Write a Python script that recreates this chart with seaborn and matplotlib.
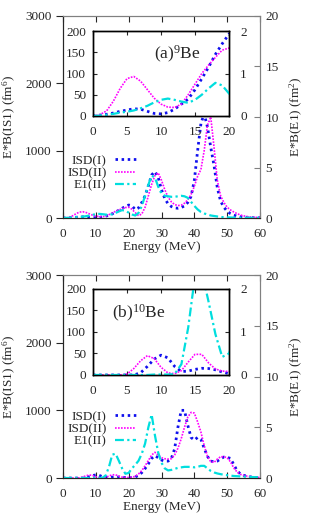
import matplotlib
matplotlib.use("Agg")
import matplotlib.pyplot as plt
from matplotlib.lines import Line2D
import seaborn as sns

# energy grid (MeV), 1 MeV steps
energy = list(range(61))

# 9Be
be9_isd1 = [0, 2, 4, 7, 11, 14, 17, 16, 11, 6, 5, 8, 16, 28, 40, 62, 88, 115, 145, 170, 193,
            180, 125, 150, 230, 330, 480, 640, 690, 600, 420, 290, 210, 170, 150, 145, 155, 180, 230, 320,
            560, 1000, 1400, 1550, 1350, 1050, 780, 450, 250, 160, 100, 65, 42, 28, 20, 14, 10, 7, 5, 4, 3]
be9_isd2 = [0, 3, 12, 35, 65, 88, 93, 82, 62, 42, 28, 21, 20, 28, 50, 75, 100, 120, 138, 155, 160,
            130, 80, 35, 60, 160, 330, 500, 630, 670, 560, 420, 310, 240, 200, 185, 190, 220, 270, 350,
            470, 620, 720, 1000, 1380, 1500, 1050, 560, 330, 230, 160, 120, 90, 65, 45, 32, 22, 16, 12, 9, 7]
be9_e1 = [0, 0.01, 0.03, 0.05, 0.08, 0.1, 0.13, 0.18, 0.24, 0.32, 0.38, 0.41, 0.38, 0.34, 0.31, 0.38, 0.5, 0.65, 0.78, 0.72, 0.53,
          0.35, 0.25, 0.5, 1.2, 2.2, 3.3, 4.2, 4.0, 3.1, 2.4, 2.2, 2.15, 2.1, 2.1, 2.15, 2.2, 2.15, 2.0, 1.6,
          1.2, 0.85, 0.6, 0.45, 0.35, 0.25, 0.2, 0.15, 0.1, 0.08, 0.06, 0.05, 0.04, 0.04, 0.03, 0.03, 0.03, 0.02, 0.02, 0.02, 0.02]

# 10Be
be10_isd1 = [0, 0, 0, 0, 0, 0, 0, 5, 20, 37, 46, 40, 20, 8, 9, 13, 15.5, 15, 12, 7, 3,
             5, 15, 40, 80, 140, 210, 290, 330, 300, 265, 250, 250, 290, 430, 750, 1000, 1000, 780, 600,
             560, 600, 570, 440, 320, 250, 240, 250, 285, 310, 305, 290, 200, 110, 60, 40, 28, 18, 12, 8, 5]
be10_isd2 = [0, 0, 0, 0, 0, 2, 15, 33, 45, 38, 18, 5, 3, 10, 30, 48, 48, 28, 14, 9, 8,
             12, 25, 60, 110, 180, 260, 340, 380, 340, 300, 285, 280, 285, 340, 440, 580, 750, 900, 970,
             960, 830, 680, 480, 320, 240, 230, 280, 315, 315, 300, 240, 150, 90, 55, 40, 28, 20, 15, 10, 8]
be10_e1 = [0, 0, 0, 0, 0, 0, 0, 0, 0, 0.01, 0.01, 0.01, 0.02, 0.25, 1.1, 2.3, 2.4, 1.7, 0.95, 0.42, 0.5,
           0.95, 1.3, 1.7, 2.4, 3.4, 5.0, 6.25, 4.2, 2.5, 1.5, 0.95, 0.75, 0.8, 0.9, 1.0, 1.05, 1.1, 1.1, 1.1,
           1.05, 1.1, 1.2, 1.2, 0.95, 0.7, 0.55, 0.45, 0.38, 0.32, 0.28, 0.24, 0.2, 0.18, 0.16, 0.14, 0.12, 0.1, 0.09, 0.08, 0.07]

labels = ["ISD(I)", "ISD(II)", "E1(II)"]
panel_titles = [r"(a)$^{9}$Be", r"(b)$^{10}$Be"]

sns.set_style("ticks")
plt.rcParams['font.family'] = ['Liberation Serif', 'DejaVu Serif']
plt.rcParams['mathtext.fontset'] = 'custom'
plt.rcParams['mathtext.rm'] = 'Liberation Serif'
plt.rcParams['mathtext.it'] = 'Liberation Serif:italic'
FS = 9.5

C_BLUE = '#1010ee'
C_MAG = '#ff00ff'
C_CYAN = '#00dede'
ST_BLUE = dict(color=C_BLUE, lw=2.0, linestyle=(0, (0.9, 1.3)))
ST_MAG = dict(color=C_MAG, lw=1.2, linestyle=(0, (1, 0.8)))
ST_CYAN = dict(color=C_CYAN, lw=1.6, linestyle=(0, (4, 1.5, 1, 1.5)))
GRAY = '#808080'

fig = plt.figure(figsize=(3.27, 5.16), dpi=100)

main_pos = [[0.1927, 0.5775, 0.6024, 0.3915], [0.1927, 0.0736, 0.6024, 0.3934]]
inset_pos = [[0.2844, 0.7752, 0.4159, 0.1647], [0.2844, 0.2733, 0.4159, 0.1667]]
data = [(be9_isd1, be9_isd2, be9_e1), (be10_isd1, be10_isd2, be10_e1)]
text_pos = [(0.45, 0.73), (0.14, 0.72)]
legend_y = [0.352, 0.37]

for k in range(2):
    isd1, isd2, e1 = data[k]

    ax = fig.add_axes(main_pos[k])
    ax2 = ax.twinx()
    sns.lineplot(x=energy, y=isd1, ax=ax, **ST_BLUE)
    sns.lineplot(x=energy, y=isd2, ax=ax, **ST_MAG)
    sns.lineplot(x=energy, y=e1, ax=ax2, **ST_CYAN)
    ax.set_xlim(0, 60)
    ax.set_ylim(0, 3000)
    ax2.set_ylim(0, 20)
    ax.set_xticks(range(0, 61, 10))
    ax.set_yticks([0, 1000, 2000, 3000])
    ax2.set_yticks([0, 5, 10, 15, 20])
    ax.tick_params(axis='y', direction='out', length=5, pad=3, labelsize=FS)
    ax.tick_params(axis='x', direction='in', length=4, pad=7, top=True, labelsize=FS)
    ax2.tick_params(axis='y', direction='in', length=4, pad=4, labelsize=FS, color=GRAY)
    ax.spines['top'].set_color(GRAY)
    ax.spines['right'].set_color(GRAY)
    ax2.spines['right'].set_color(GRAY)
    ax2.spines['top'].set_color(GRAY)
    ax.set_xlabel("Energy (MeV)", fontsize=FS, labelpad=1)
    ax.set_ylabel(r"E*B(IS1) (fm$^{6}$)", fontsize=FS)
    ax2.set_ylabel(r"E*B(E1) (fm$^{2}$)", fontsize=FS)
    ax.yaxis.set_label_coords(-0.228, 0.5)
    ax2.yaxis.set_label_coords(1.142, 0.5)

    handles = [Line2D([], [], **ST_BLUE), Line2D([], [], **ST_MAG), Line2D([], [], **ST_CYAN)]
    ax2.legend(handles, labels, loc='upper right', bbox_to_anchor=(0.41, legend_y[k]), frameon=False,
               markerfirst=False, handlelength=1.6, handletextpad=0.6, labelspacing=0.0,
               borderpad=0.1, fontsize=FS)

    ins = fig.add_axes(inset_pos[k])
    ins.set_facecolor('white')
    ins2 = ins.twinx()
    sns.lineplot(x=energy, y=isd1, ax=ins, **ST_BLUE)
    sns.lineplot(x=energy, y=isd2, ax=ins, **ST_MAG)
    sns.lineplot(x=energy, y=e1, ax=ins2, **ST_CYAN)
    ins.set_xlim(0, 20)
    ins.set_ylim(0, 200)
    ins2.set_ylim(0, 2)
    ins.set_xticks(range(0, 21, 5))
    ins.set_yticks(range(0, 201, 50))
    ins2.set_yticks([0, 1, 2])
    ins.tick_params(axis='both', direction='in', length=3, labelsize=FS)
    ins.tick_params(axis='x', pad=7, top=True)
    ins.tick_params(axis='y', pad=5)
    ins2.tick_params(axis='y', direction='in', length=3, pad=8, labelsize=FS)
    for a in (ins, ins2):
        for s in a.spines.values():
            s.set_color('black')
            s.set_linewidth(1.0)
    ins.text(text_pos[k][0], text_pos[k][1], panel_titles[k], transform=ins.transAxes,
             ha='left', va='center', fontsize=12.5)

fig.savefig("out.png", dpi=100)
